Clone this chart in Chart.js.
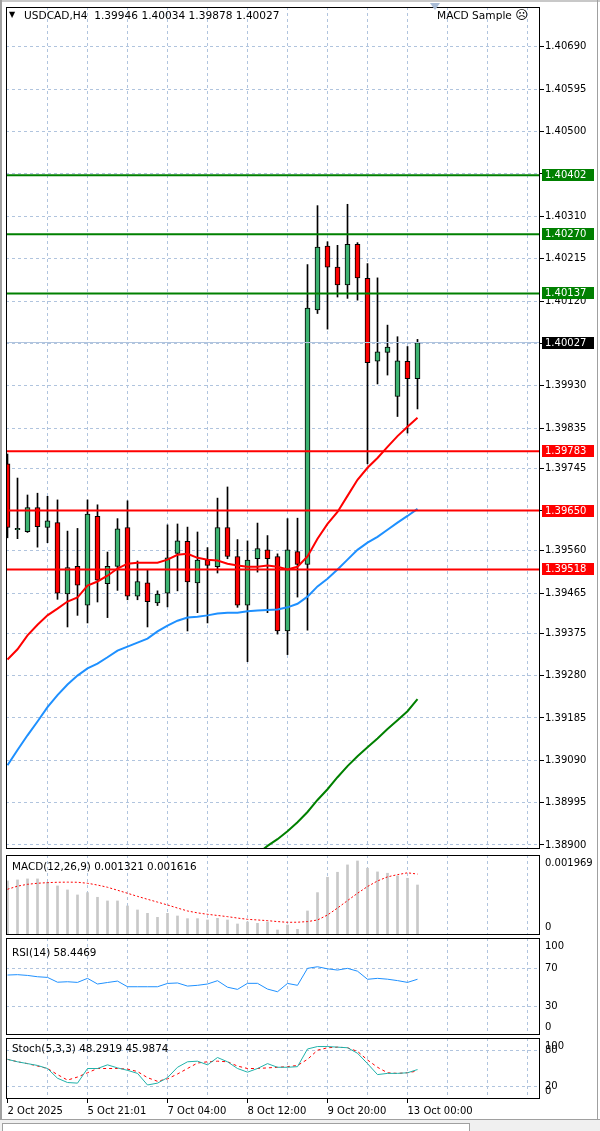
<!DOCTYPE html>
<html>
<head>
<meta charset="utf-8">
<script src="https://cdn.jsdelivr.net/npm/chart.js@4.4.1/dist/chart.umd.min.js"></script>
<style>
  html, body { margin:0; padding:0; background:#fff; }
  #wrap { position:relative; width:600px; height:1131px; overflow:hidden; background:#fff; font-family:"DejaVu Sans", sans-serif; }
  #wrap canvas { position:absolute; left:0; }
  .t { position:absolute; font-size:10.5px; line-height:12px; color:#000; white-space:pre; }
</style>
</head>
<body>
<div id="wrap">
  <div style="position:absolute;left:0;top:0;width:600px;height:2px;background:#c8c8c8"></div>
  <div style="position:absolute;left:0;top:0;width:2px;height:1120px;background:#a0a0a0"></div>
  <div style="position:absolute;left:597px;top:0;width:1px;height:1120px;background:#a0a0a0"></div>
  <div style="position:absolute;left:0;top:1119px;width:600px;height:12px;background:#f0f0f0;border-top:1px solid #a0a0a0"></div>
  <div style="position:absolute;left:2px;top:1123px;width:466px;height:10px;background:#fff;border:1px solid #a0a0a0"></div>
  <canvas id="cMain" width="600" height="856" style="top:0"></canvas>
  <canvas id="cMacd" width="600" height="86" style="top:852px"></canvas>
  <canvas id="cRsi" width="600" height="100" style="top:936px"></canvas>
  <canvas id="cSto" width="600" height="85" style="top:1036px"></canvas>
  <div class="t" style="left:9px;top:9px;font-size:8px">▼</div>
  <div class="t" style="left:24px;top:9px;font-size:10.6px">USDCAD,H4  1.39946 1.40034 1.39878 1.40027</div>
  <div style="position:absolute;left:430px;top:3px;width:0;height:0;border-left:5px solid transparent;border-right:5px solid transparent;border-top:7px solid #a9bcd6"></div>
  <div class="t" style="left:437px;top:9px;font-size:10.6px">MACD Sample <span style="font-size:12.5px">☹</span></div>
  <div class="t" style="left:12px;top:860px;font-size:10.4px">MACD(12,26,9) 0.001321 0.001616</div>
  <div class="t" style="left:12px;top:946px;font-size:10.4px">RSI(14) 58.4469</div>
  <div class="t" style="left:12px;top:1042px;font-size:10.4px">Stoch(5,3,3) 48.2919 45.9874</div>
</div>
<script>
// ---------------- data ----------------
const opens  = [1.39755,1.39607,1.39603,1.39657,1.39612,1.39623,1.39463,1.39525,1.39438,1.39637,1.39486,1.39525,1.39612,1.39458,1.39488,1.39443,1.39465,1.39554,1.39581,1.39488,1.39539,1.39524,1.39612,1.39547,1.39438,1.39542,1.39562,1.39547,1.39380,1.39558,1.39529,1.40100,1.40243,1.40196,1.40156,1.40247,1.40171,1.39985,1.40005,1.39906,1.39985,1.39946];
const highs  = [1.39777,1.39723,1.39685,1.39689,1.39682,1.39674,1.39604,1.39610,1.39674,1.39663,1.39557,1.39632,1.39672,1.39537,1.39516,1.39470,1.39618,1.39620,1.39613,1.39602,1.39567,1.39678,1.39703,1.39585,1.39582,1.39622,1.39594,1.39553,1.39632,1.39633,1.40202,1.40334,1.40253,1.40245,1.40337,1.40251,1.40204,1.40172,1.40066,1.40040,1.40018,1.40034];
const lows   = [1.39589,1.39587,1.39601,1.39568,1.39578,1.39451,1.39389,1.39415,1.39398,1.39445,1.39410,1.39471,1.39450,1.39450,1.39389,1.39437,1.39434,1.39470,1.39380,1.39421,1.39398,1.39510,1.39542,1.39433,1.39311,1.39512,1.39421,1.39373,1.39327,1.39456,1.39382,1.40092,1.40057,1.40129,1.40126,1.40122,1.39755,1.39934,1.39954,1.39861,1.39824,1.39878];
const closes = [1.39612,1.39610,1.39657,1.39614,1.39627,1.39465,1.39522,1.39483,1.39642,1.39494,1.39525,1.39609,1.39458,1.39491,1.39446,1.39463,1.39544,1.39582,1.39490,1.39539,1.39527,1.39612,1.39547,1.39438,1.39539,1.39565,1.39542,1.39380,1.39562,1.39529,1.40104,1.40241,1.40196,1.40156,1.40247,1.40172,1.39982,1.40006,1.40017,1.39986,1.39946,1.40027];

const maRed   = [1.39316,1.39339,1.39370,1.39394,1.39415,1.39430,1.39446,1.39455,1.39482,1.39491,1.39504,1.39520,1.39531,1.39533,1.39533,1.39533,1.39540,1.39551,1.39553,1.39544,1.39540,1.39538,1.39531,1.39527,1.39524,1.39524,1.39527,1.39524,1.39518,1.39524,1.39547,1.39587,1.39620,1.39647,1.39683,1.39719,1.39746,1.39768,1.39793,1.39817,1.39838,1.39858];
const maBlue  = [1.39079,1.39113,1.39146,1.39177,1.39209,1.39236,1.39260,1.39280,1.39296,1.39307,1.39321,1.39336,1.39345,1.39354,1.39363,1.39379,1.39392,1.39403,1.39410,1.39412,1.39415,1.39419,1.39421,1.39421,1.39424,1.39426,1.39427,1.39428,1.39433,1.39441,1.39457,1.39480,1.39497,1.39518,1.39540,1.39562,1.39578,1.39591,1.39607,1.39623,1.39638,1.39654];
const maGreen = [null,null,null,null,null,null,null,null,null,null,null,null,null,null,null,null,null,null,null,null,null,null,null,null,null,1.38880,1.38898,1.38913,1.38931,1.38951,1.38974,1.39001,1.39025,1.39052,1.39077,1.39099,1.39119,1.39139,1.39160,1.39180,1.39200,1.39227];

const macdHist   = [0.001431,0.001458,0.001485,0.001485,0.001395,0.001296,0.001188,0.001053,0.001116,0.000990,0.000891,0.000891,0.000756,0.000648,0.000558,0.000450,0.000558,0.000486,0.000414,0.000414,0.000378,0.000423,0.000378,0.000270,0.000324,0.000288,0.000324,0.000108,0.000243,0.000126,0.000621,0.001116,0.001530,0.001665,0.001863,0.001969,0.001773,0.001674,0.001638,0.001566,0.001503,0.001321];
const macdSignal = [0.001206,0.001290,0.001340,0.001368,0.001385,0.001395,0.001398,0.001395,0.001368,0.001320,0.001260,0.001180,0.001098,0.001015,0.000936,0.000860,0.000783,0.000700,0.000621,0.000570,0.000531,0.000500,0.000468,0.000430,0.000396,0.000378,0.000360,0.000335,0.000315,0.000318,0.000335,0.000378,0.000513,0.000700,0.000900,0.001098,0.001280,0.001430,0.001540,0.001600,0.001650,0.001616];

const rsiValues = [62.9,63.3,62.5,61.1,60.4,55.3,55.8,55.1,59.4,53.4,55.0,56.5,50.5,50.5,50.5,50.5,54.0,54.5,51.2,52.0,53.4,56.9,50.0,47.7,54.1,54.1,48.0,45.2,54.0,52.0,70.0,71.7,69.5,68.2,70.0,67.0,58.4,59.4,58.5,57.0,55.1,58.4469];

const stochMain   = [65,61,58,55,50,34,27,26,50,50,56,51,47,42,23,26,35,52,61,62,56,68,61,50,44,50,58,52,52,53,82,86,86,85,84,75,58,40,42,42,43,48.2919];
const stochSignal = [65,61,58,54,50,40,31,36,43,50,50,50,49,45,35,29,33,41,50,59,61,62,61,54,50,50,51,52,53,55,65,80,84,85,84,78,64,52,43,42,43,45.9874];

const levelsGreen = [1.40402, 1.40270, 1.40137];
const levelsRed   = [1.39783, 1.39650, 1.39518];
const lastPrice   = 1.40027;
const priceTicks  = [1.40690,1.40595,1.40500,1.40405,1.40310,1.40215,1.40120,1.40025,1.39930,1.39835,1.39745,1.39650,1.39560,1.39465,1.39375,1.39280,1.39185,1.39090,1.38995,1.38900];
const timeLabels    = ['2 Oct 2025','5 Oct 21:01','7 Oct 04:00','8 Oct 12:00','9 Oct 20:00','13 Oct 00:00'];
const timeLabelBars = [0, 8, 16, 24, 32, 40];
const rsiLevels   = [70, 30];
const stochLevels = [80, 20];
const macdAxisLabels  = [{v:0.001969, text:'0.001969'}, {v:0, text:'0'}];
const rsiAxisLabels   = [{v:100,text:'100'},{v:70,text:'70'},{v:30,text:'30'},{v:0,text:'0'}];
const stochAxisLabels = [{v:100,text:'100'},{v:80,text:'80'},{v:20,text:'20'},{v:0,text:'0'}];

// ---------------- config helpers ----------------
const X_MIN = -0.15, X_MAX = 53.25;
const AXIS_W = 60;
const FONT = {family:'"DejaVu Sans", sans-serif', size:10};
const GRID = '#b0c4de';
const gridBars = []; for (let b = 4; b <= 52; b += 4) gridBars.push(b);
const idx = opens.map((_, i) => i);
const pts = arr => idx.map(i => ({x:i, y:arr[i]}));

Chart.defaults.font.family = FONT.family;
Chart.defaults.font.size = 10;

function xAxis(withLabels) {
  return {
    type:'linear', min:X_MIN, max:X_MAX, offset:false,
    afterBuildTicks: s => { s.ticks = (withLabels ? [0].concat(gridBars) : gridBars).map(v => ({value:v})); },
    grid: {
      offset:false,
      color: ctx => (ctx.tick && ctx.tick.value === 0) ? 'rgba(0,0,0,0)' : GRID,
      lineWidth:1, drawTicks:withLabels, tickLength:4, tickBorderDash:[],
      tickColor: ctx => (ctx.tick && timeLabelBars.includes(ctx.tick.value)) ? '#000' : 'rgba(0,0,0,0)'
    },
    border: {display:false, dash:[3,3]},
    ticks: {
      display:withLabels, autoSkip:false, maxRotation:0, minRotation:0, align:'start', padding:2,
      color:'#000', font:FONT,
      callback: v => { const k = timeLabelBars.indexOf(v); return k >= 0 ? timeLabels[k] : ''; }
    },
    afterFit: s => { s.height = withLabels ? 22 : 0; }
  };
}
function yAxis(min, max, tickVals, showLabels) {
  return {
    type:'linear', position:'right', min, max,
    afterBuildTicks: s => { s.ticks = tickVals.map(v => ({value:v})); },
    grid: {color:GRID, drawTicks:showLabels, tickLength:4, tickColor:'#000', tickBorderDash:[]},
    border: {display:false, dash:[3,3]},
    ticks: {display:showLabels, autoSkip:false, color:'#000', font:FONT, padding:1, callback: v => Number(v).toFixed(5)},
    afterFit: s => { s.width = AXIS_W; }
  };
}
const framePlugin = {
  id:'frame',
  afterDraw(chart) {
    const a = chart.chartArea, c = chart.ctx;
    c.save(); c.strokeStyle = '#000'; c.lineWidth = 1;
    c.strokeRect(a.left + 0.5, a.top + 0.5, a.right - a.left - 1, a.bottom - a.top - 1);
    c.restore();
  }
};
function sideLabels(items) {
  return {
    id:'sideLabels',
    afterDraw(chart) {
      const y = chart.scales.y, a = chart.chartArea, c = chart.ctx;
      c.save(); c.font = '10px "DejaVu Sans", sans-serif'; c.fillStyle = '#000';
      c.textBaseline = 'middle'; c.textAlign = 'left';
      items.forEach(it => {
        let p = y.getPixelForValue(it.v);
        p = Math.min(Math.max(p, a.top + 8), a.bottom - 8);
        c.fillText(it.text, a.right + 5, p);
      });
      c.restore();
    }
  };
}
const tagPlugin = {
  id:'tags',
  afterDraw(chart) {
    const y = chart.scales.y, a = chart.chartArea, c = chart.ctx;
    const tags = levelsGreen.map(v => ({v, bg:'#008000'}))
      .concat(levelsRed.map(v => ({v, bg:'#ff0000'})), [{v:lastPrice, bg:'#000000'}]);
    c.save(); c.font = '10px "DejaVu Sans", sans-serif'; c.textBaseline = 'middle'; c.textAlign = 'left';
    tags.forEach(t => {
      const p = Math.round(y.getPixelForValue(t.v));
      c.fillStyle = t.bg; c.fillRect(a.right + 2, p - 6, 52, 12);
      c.fillStyle = '#fff'; c.fillText(t.v.toFixed(5), a.right + 5, p + 0.5);
    });
    c.restore();
  }
};
function hline(v, color, w) {
  return {type:'line', data:[{x:X_MIN, y:v}, {x:X_MAX, y:v}], borderColor:color, borderWidth:w, pointRadius:0, order:0};
}
const common = (padTop, padBottom) => ({
  responsive:false, animation:false, events:[],
  layout:{padding:{left:6, right:0, top:padTop, bottom:padBottom}},
  plugins:{legend:{display:false}, tooltip:{enabled:false}}
});
const lineDs = (arr, color, w, dash, order) => ({
  type:'line', data:pts(arr), borderColor:color, borderWidth:w, borderDash:dash || [],
  pointRadius:0, tension:0, spanGaps:false, order:order === undefined ? 0 : order
});

// ---------------- main price chart ----------------
new Chart(document.getElementById('cMain'), {
  type:'bar',
  data:{datasets:[
    hline(lastPrice, '#b0c4de', 1),
    ...levelsGreen.map(v => hline(v, '#008000', 2)),
    ...levelsRed.map(v => hline(v, '#ff0000', 2)),
    lineDs(maRed, '#ff0000', 2),
    lineDs(maBlue, '#1e90ff', 2),
    lineDs(maGreen, '#008000', 2),
    {type:'bar', data: idx.map(i => ({x:i, y:[opens[i], closes[i]]})),
     backgroundColor: idx.map(i => closes[i] >= opens[i] ? '#3cb371' : '#ff0000'),
     borderColor:'#000', borderWidth:1, borderSkipped:false, barThickness:5, minBarLength:1, grouped:false, order:5},
    {type:'bar', data: idx.map(i => ({x:i, y:[lows[i], highs[i]]})),
     backgroundColor:'#000', borderWidth:0, barThickness:1, grouped:false, order:6}
  ]},
  options:Object.assign(common(7, 5), {
    scales:{ x:xAxis(false), y:yAxis(1.38891, 1.407795, priceTicks, true) }
  }),
  plugins:[framePlugin, tagPlugin]
});

// ---------------- MACD ----------------
new Chart(document.getElementById('cMacd'), {
  type:'bar',
  data:{datasets:[
    lineDs(macdSignal, '#ff0000', 1, [2,2]),
    {type:'bar', data:pts(macdHist), backgroundColor:'#c8c8c8', borderWidth:0, barThickness:2, grouped:false, order:5}
  ]},
  options:Object.assign(common(3, 3), {
    scales:{ x:xAxis(false), y:yAxis(-0.000027, 0.00213, [], false) }
  }),
  plugins:[framePlugin, sideLabels(macdAxisLabels)]
});

// ---------------- RSI ----------------
new Chart(document.getElementById('cRsi'), {
  type:'line',
  data:{datasets:[ lineDs(rsiValues, '#1e90ff', 1) ]},
  options:Object.assign(common(2, 1), {
    scales:{ x:xAxis(false), y:yAxis(-0.7, 102.2, rsiLevels, false) }
  }),
  plugins:[framePlugin, sideLabels(rsiAxisLabels)]
});

// ---------------- Stochastic ----------------
new Chart(document.getElementById('cSto'), {
  type:'line',
  data:{datasets:[
    lineDs(stochMain, '#20b2aa', 1),
    lineDs(stochSignal, '#ff0000', 1, [3,3], 1)
  ]},
  options:Object.assign(common(2, 0), {
    scales:{ x:xAxis(true), y:yAxis(0, 100, stochLevels, false) }
  }),
  plugins:[framePlugin, sideLabels(stochAxisLabels)]
});
</script>
</body>
</html>
